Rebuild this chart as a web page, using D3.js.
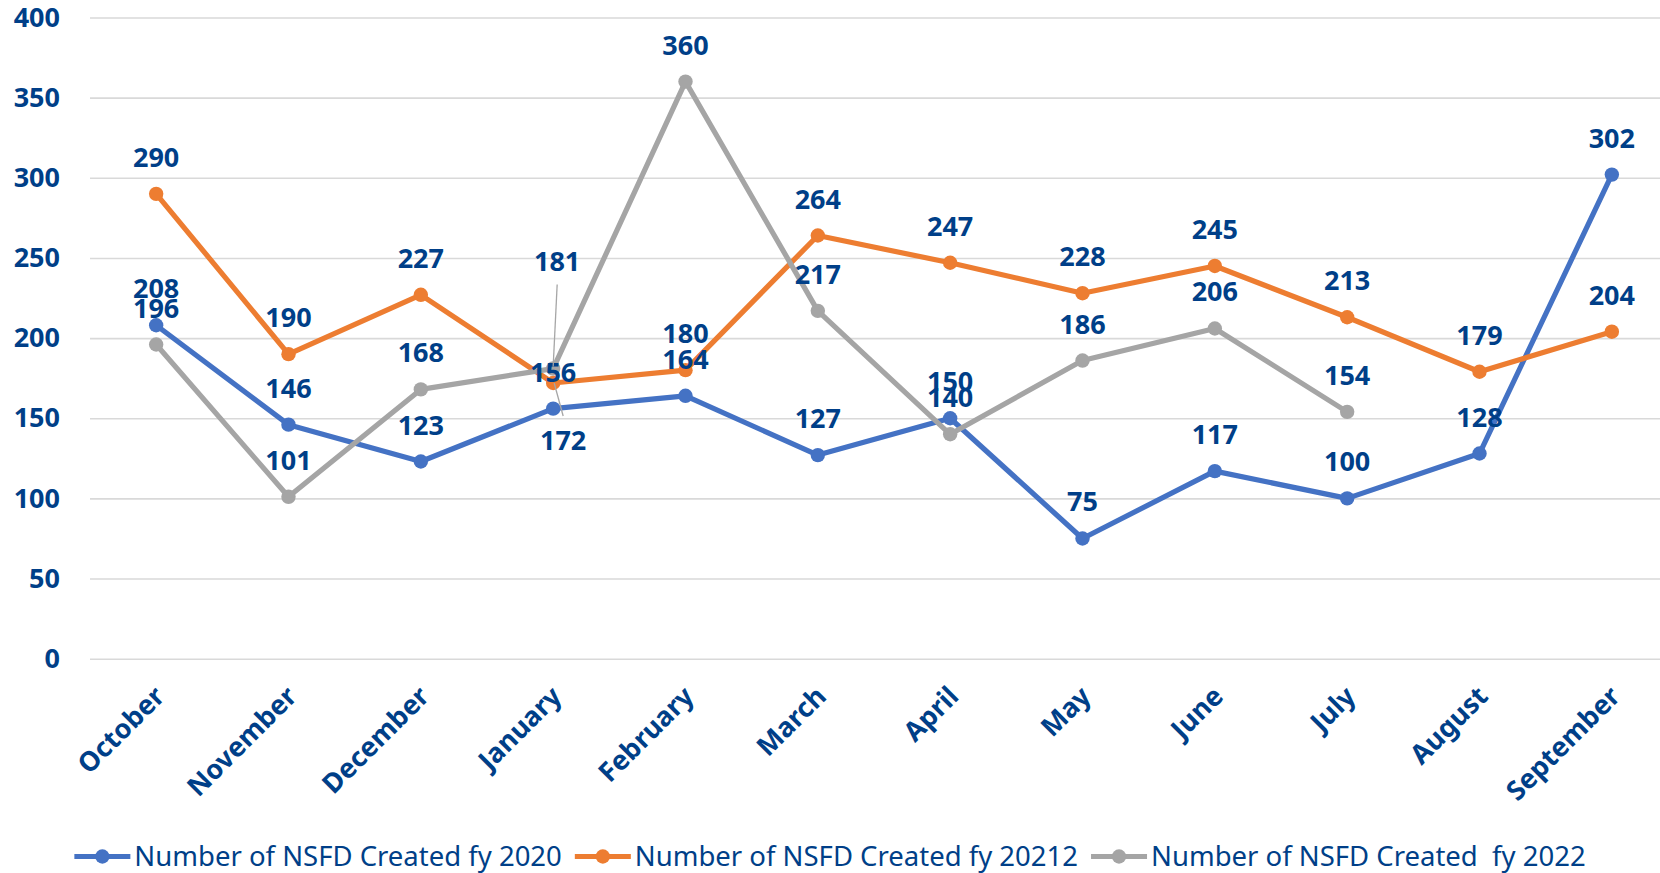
<!DOCTYPE html>
<html>
<head>
<meta charset="utf-8">
<script src="https://cdn.jsdelivr.net/npm/d3@7"></script>
<style>
  html, body { margin: 0; padding: 0; background: #fff; }
  svg { display: block; font-family: "Noto Sans", "Open Sans", sans-serif; }
</style>
</head>
<body>
<svg width="1660" height="873"></svg>
<script>
const months = ['October', 'November', 'December', 'January', 'February', 'March',
  'April', 'May', 'June', 'July', 'August', 'September'];
const fy2020 = [208, 146, 123, 156, 164, 127, 150, 75, 117, 100, 128, 302];
const fy2021 = [290, 190, 227, 172, 180, 264, 247, 228, 245, 213, 179, 204];
const fy2022 = [196, 101, 168, 181, 360, 217, 140, 186, 206, 154, null, null];
const seriesNames = ['Number of NSFD Created fy 2020', 'Number of NSFD Created fy 20212',
  'Number of NSFD Created  fy 2022'];
const yTicks = [0, 50, 100, 150, 200, 250, 300, 350, 400];

function makeChart () {
  const svg = d3.select('svg');
  const pxX = +svg.attr('width');
  const textCol = '#003f88';
  const colors = ['#4472c4', '#ed7d31', '#a5a5a5'];
  const allSeries = [fy2020, fy2021, fy2022];

  const scX = d3.scaleBand().domain(months).range([90, 1678]);
  const cx = m => scX(m) + scX.bandwidth() / 2;
  const scY = d3.scaleLinear().domain([0, 400]).range([658.7, 17.5]);

  // gridlines + y labels
  const yAx = svg.append('g')
    .attr('transform', 'translate(90,0)')
    .call(d3.axisLeft(scY).tickValues(yTicks).tickSize(-(1678 - 90)).tickPadding(30));
  yAx.select('.domain').remove();
  yAx.selectAll('line').attr('stroke', '#d9d9d9').attr('stroke-width', 1.6);
  yAx.selectAll('text')
    .attr('fill', textCol).attr('font-size', 27).attr('font-weight', 'bold')
    .attr('font-family', '"Noto Sans", sans-serif');

  // x labels
  svg.append('g').selectAll('text').data(months).enter()
    .append('text')
    .attr('transform', d => 'translate(' + (cx(d) + 10) + ',698) rotate(-45)')
    .attr('text-anchor', 'end')
    .attr('fill', textCol).attr('font-size', 27).attr('font-weight', 'bold')
    .text(d => d);

  // series
  allSeries.forEach((vals, i) => {
    const g = svg.append('g');
    const pts = months.map((m, j) => ({ m: m, v: vals[j] })).filter(d => d.v != null);
    const lnMkr = d3.line().x(d => cx(d.m)).y(d => scY(d.v));
    g.append('path').attr('fill', 'none')
      .attr('stroke', colors[i]).attr('stroke-width', 5.2)
      .attr('stroke-linejoin', 'round')
      .attr('d', lnMkr(pts));
    g.selectAll('circle').data(pts).enter()
      .append('circle')
      .attr('r', 7.2)
      .attr('cx', d => cx(d.m))
      .attr('cy', d => scY(d.v))
      .attr('fill', colors[i]);
  });

  // data labels (a few were moved by hand in the original, with leader lines)
  const moved = {
    '1-3': { dx: 10, dy: 67, lead: [10, 33, 1, 0] },
    '2-3': { dx: 4, dy: -98, lead: [4, -84, 0, -2] }
  };
  const lblG = svg.append('g');
  allSeries.forEach((vals, i) => {
    vals.forEach((v, j) => {
      if (v == null) return;
      const px = cx(months[j]);
      const py = scY(v);
      const mv = moved[i + '-' + j];
      if (mv) {
        lblG.append('line')
          .attr('x1', px + mv.lead[0]).attr('y1', py + mv.lead[1])
          .attr('x2', px + mv.lead[2]).attr('y2', py + mv.lead[3])
          .attr('stroke', '#a6a6a6').attr('stroke-width', 1.3);
      }
      lblG.append('text')
        .attr('x', px + (mv ? mv.dx : 0))
        .attr('y', py + (mv ? mv.dy : -27))
        .attr('text-anchor', 'middle')
        .attr('fill', textCol).attr('font-size', 27).attr('font-weight', 'bold')
        .text(v);
    });
  });

  // legend
  const lg = svg.append('g');
  const items = seriesNames.map((name, i) => {
    const it = lg.append('g');
    it.append('line').attr('x1', 0).attr('x2', 56).attr('y1', 0).attr('y2', 0)
      .attr('stroke', colors[i]).attr('stroke-width', 5.2);
    it.append('circle').attr('cx', 28).attr('cy', 0).attr('r', 7.2).attr('fill', colors[i]);
    const t = it.append('text').attr('x', 60).attr('y', 9.5)
      .attr('fill', textCol).attr('font-size', 27.5)
      .style('white-space', 'pre')
      .text(name);
    return { g: it, w: 60 + t.node().getComputedTextLength() };
  });
  const gap = 13;
  const total = d3.sum(items, d => d.w) + gap * (items.length - 1);
  let x0 = (pxX - total) / 2;
  items.forEach(d => {
    d.g.attr('transform', 'translate(' + x0 + ',856.5)');
    x0 += d.w + gap;
  });
}
makeChart();
</script>
</body>
</html>
